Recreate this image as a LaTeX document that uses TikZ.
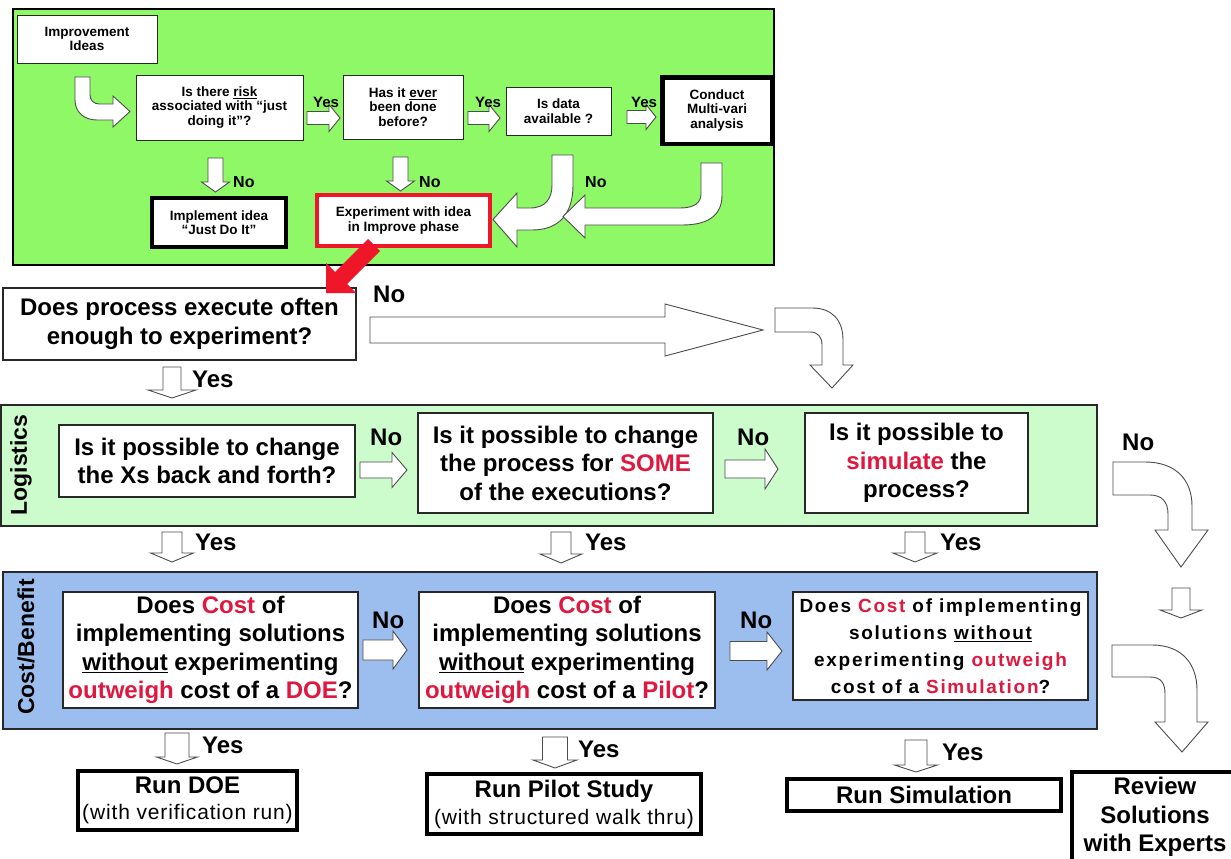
\documentclass[tikz,border=0pt]{standalone}
\usepackage{fontspec}
\setmainfont{Liberation Sans}
\usetikzlibrary{calc}
\definecolor{topgreen}{RGB}{142,248,102}
\definecolor{loggreen}{RGB}{204,252,204}
\definecolor{costblue}{RGB}{155,190,238}
\definecolor{hot}{RGB}{222,24,62}
\definecolor{alarm}{RGB}{238,22,40}
\definecolor{edge}{RGB}{40,40,40}
\newcommand{\redtxt}[1]{\textcolor{hot}{#1}}
% straight block arrows: from, to, centre line, shaft half-width, head half-width, head length
\newcommand{\rarrow}[6]{%
  \draw[blk] (#1,#3-#4) -- (#2-#6,#3-#4) -- (#2-#6,#3-#5) -- (#2,#3)
    -- (#2-#6,#3+#5) -- (#2-#6,#3+#4) -- (#1,#3+#4) -- cycle;}
\newcommand{\darrow}[6]{%
  \draw[blk] (#3-#4,#1) -- (#3-#4,#2-#6) -- (#3-#5,#2-#6) -- (#3,#2)
    -- (#3+#5,#2-#6) -- (#3+#4,#2-#6) -- (#3+#4,#1) -- cycle;}
\begin{document}
\begin{tikzpicture}[x=1pt,y=-1pt,
  box/.style={draw=edge, line width=1.1pt, fill=white, align=center, inner sep=0pt},
  heavy/.style={box, draw=black, line width=4.2pt},
  blk/.style={draw=black!70, line width=0.9pt, fill=white, line join=miter},
  small/.style={font=\fontsize{13.5}{14.5}\selectfont\bfseries},
  big/.style={font=\fontsize{24}{28.5}\selectfont\bfseries},
  tag/.style={font=\fontsize{24}{28}\selectfont\bfseries, anchor=base west, inner sep=0pt},
  smalltag/.style={font=\fontsize{15}{16}\selectfont\bfseries, anchor=base west, inner sep=0pt},
  band/.style={draw=edge, line width=1.3pt},
  side/.style={font=\fontsize{23}{26}\selectfont\bfseries, rotate=90, inner sep=0pt}]
\clip (0,0) rectangle (1231,859);
\fill[white] (0,0) rectangle (1231,859);

% ---------- idea screening panel ----------
\draw[fill=topgreen, draw=black, line width=1.8pt] (13,9) rectangle (774,265);

\node[box, small, line width=0.9pt, minimum width=140, minimum height=48] (imp) at (87,39) {Improvement\\Ideas};
\node[box, small, line width=0.9pt, minimum width=167, minimum height=65] (risk) at (219.5,107.5)
  {Is there \underline{risk}\\associated with “just\\doing it”?};
\node[box, small, line width=0.9pt, minimum width=120, minimum height=64] (ever) at (403,107)
  {Has it \underline{ever}\\been done\\before?};
\node[box, small, line width=0.9pt, minimum width=105, minimum height=48] (data) at (558.5,111)
  {Is data\\available ?};
\node[heavy, small, line width=4.5pt, minimum width=109.5, minimum height=66.5] (multi) at (717,110.5)
  {Conduct\\Multi-vari\\analysis};
\node[heavy, small, minimum width=134, minimum height=49] (just) at (219,222.5)
  {Implement idea\\“Just Do It”};
\node[heavy, small, draw=alarm, minimum width=173, minimum height=51] (expt) at (403.5,220.5)
  {Experiment with idea\\in Improve phase};

% screening arrows
\draw[blk] (75,77) -- (75,100) .. controls (75,112) and (84,120) .. (97,120) -- (113,120)
  -- (113,127) -- (130,111.5) -- (113,96) -- (113,104) -- (99,104)
  .. controls (94,104) and (90,100) .. (90,95) -- (90,77) -- cycle;
\rarrow{307}{340}{118}{6.5}{13.5}{11}
\rarrow{468}{500}{118}{6.5}{13.5}{11}
\rarrow{627}{656}{117}{6.5}{12.5}{10}
\darrow{158}{192}{215.5}{7.5}{14}{10}
\darrow{157}{191}{400.5}{7.5}{14}{10}
\draw[blk] (573,155) -- (573,185) .. controls (573,215) and (558,230) .. (532,230) -- (517,230)
  -- (517,247) -- (493,219.5) -- (517,193) -- (517,208) -- (530,208)
  .. controls (546,208) and (552,198) .. (552,185) -- (552,155) -- cycle;
\draw[blk] (722,163) -- (722,195) .. controls (722,217) and (706,225) .. (682,225) -- (585,225)
  -- (585,238) -- (563,216.5) -- (585,195) -- (585,208) -- (680,208)
  .. controls (694,208) and (701,203) .. (701,194) -- (701,163) -- cycle;
\node[smalltag] (y1) at (313,107) {Yes};
\node[smalltag] (y2) at (475,107) {Yes};
\node[smalltag] (y3) at (631,107) {Yes};
\node[smalltag, font=\fontsize{16}{17}\selectfont\bfseries] (n1) at (233,187) {No};
\node[smalltag, font=\fontsize{16}{17}\selectfont\bfseries] (n2) at (419,187) {No};
\node[smalltag, font=\fontsize{16}{17}\selectfont\bfseries] (n3) at (585,187) {No};

% ---------- frequency question ----------
\node[box, big, minimum width=353, minimum height=72] (often) at (179.5,324)
  {Does process execute often\\enough to experiment?};
\fill[alarm] (368,239) -- (335,272) -- (326,263) -- (326,293) -- (356,293)
  -- (347,284) -- (380,251) -- cycle;
\node[tag] (n4) at (373,302) {No};
\rarrow{370}{763}{330}{13}{26}{98}
\draw[blk] (775,308) -- (812,308) .. controls (832,308) and (843,320) .. (843,340) -- (843,365)
  -- (853,365) -- (832,388) -- (810,365) -- (822,365) -- (822,345)
  .. controls (822,337) and (818,332) .. (810,332) -- (775,332) -- cycle;
\darrow{367}{398}{172}{9}{24}{8}
\node[tag] (y4) at (192,387) {Yes};

% ---------- logistics band ----------
\draw[band, fill=loggreen] (1,405) rectangle (1097,526);
\node[side] (logi) at (21,465) {Logistics};
\node[box, big, minimum width=296, minimum height=72] (back) at (207,461)
  {Is it possible to change\\the Xs back and forth?};
\node[box, big, minimum width=295, minimum height=100] (some) at (565.5,463)
  {Is it possible to change\\the process for \redtxt{SOME}\\of the executions?};
\node[box, big, minimum width=223, minimum height=100] (simq) at (916.5,463)
  {Is it possible to\\\redtxt{simulate} the\\process?};
\rarrow{360}{407}{470}{8}{17.5}{15}
\rarrow{725}{778}{469}{9}{20}{13}
\node[tag] (n5) at (370,445) {No};
\node[tag] (n6) at (737,445) {No};
\node[tag] (n7) at (1122,450) {No};
\draw[blk] (1113,462) -- (1145,462) .. controls (1176,462) and (1192,480) .. (1192,506) -- (1192,530)
  -- (1208,530) -- (1181,567) -- (1155,530) -- (1168,530) -- (1168,514)
  .. controls (1168,502) and (1162,495) .. (1150,495) -- (1113,495) -- cycle;
\darrow{532}{562}{172}{10}{21.5}{9}
\darrow{532}{563}{561}{10}{21}{9}
\darrow{532}{562}{915}{10}{22}{9}
\node[tag] (y5) at (195,550) {Yes};
\node[tag] (y6) at (585,550) {Yes};
\node[tag] (y7) at (940,550) {Yes};

% ---------- cost / benefit band ----------
\draw[band, fill=costblue] (3,572) rectangle (1097,729);
\node[side] (cb) at (26,647) {Cost/Benefit};
\node[box, big, minimum width=295, minimum height=116] (doeq) at (210.5,650)
  {Does \redtxt{Cost} of\\implementing solutions\\\underline{without} experimenting\\\redtxt{outweigh} cost of a \redtxt{DOE}?};
\node[box, big, minimum width=296, minimum height=116] (pilotq) at (567,650)
  {Does \redtxt{Cost} of\\implementing solutions\\\underline{without} experimenting\\\redtxt{outweigh} cost of a \redtxt{Pilot}?};
\node[box, font=\fontsize{19}{27}\selectfont\bfseries\addfontfeature{LetterSpace=9},
  minimum width=295, minimum height=108] (simc) at (940.5,646)
  {Does \redtxt{Cost} of implementing\\solutions \underline{without}\\experimenting \redtxt{outweigh}\\cost of a \redtxt{Simulation}?};
\rarrow{363}{407}{650}{10}{19}{14}
\rarrow{730}{782}{651}{9.5}{19}{15}
\node[tag] (n8) at (372,628) {No};
\node[tag] (n9) at (740,628) {No};
\darrow{588}{618}{1181}{9}{21}{8}
\draw[blk] (1112,645) -- (1152,645) .. controls (1182,645) and (1197,664) .. (1197,690) -- (1197,722)
  -- (1208,722) -- (1182,752) -- (1155,722) -- (1165,722) -- (1165,694)
  .. controls (1165,683) and (1161,677) .. (1150,677) -- (1112,677) -- cycle;
\darrow{733}{764}{177}{12}{20.5}{7}
\darrow{737}{768}{555}{12.5}{22}{8}
\darrow{740}{772}{916}{11}{21.5}{7}
\node[tag] (y8) at (202,753) {Yes};
\node[tag] (y9) at (578,757) {Yes};
\node[tag] (y10) at (942,760) {Yes};

% ---------- outcomes ----------
\node[heavy, font=\fontsize{24}{25.5}\selectfont\bfseries, minimum width=219, minimum height=59] (doe) at (187.5,800.5)
  {Run DOE\\{\fontsize{21}{25}\selectfont\mdseries\addfontfeature{LetterSpace=4}(with verification run)}};
\node[heavy, font=\fontsize{24}{27}\selectfont\bfseries, minimum width=274, minimum height=60] (pilot) at (564,804)
  {Run Pilot Study\\{\fontsize{21}{25}\selectfont\mdseries\addfontfeature{LetterSpace=4}(with structured walk thru)}};
\node[heavy, big, minimum width=274, minimum height=32] (sim) at (924,795) {Run Simulation};
% runs off the lower right corner of the page
\node[heavy, big, anchor=north, minimum width=166, inner ysep=5pt] (review) at (1155,770)
  {Review\\Solutions\\with Experts};
\end{tikzpicture}
\end{document}
